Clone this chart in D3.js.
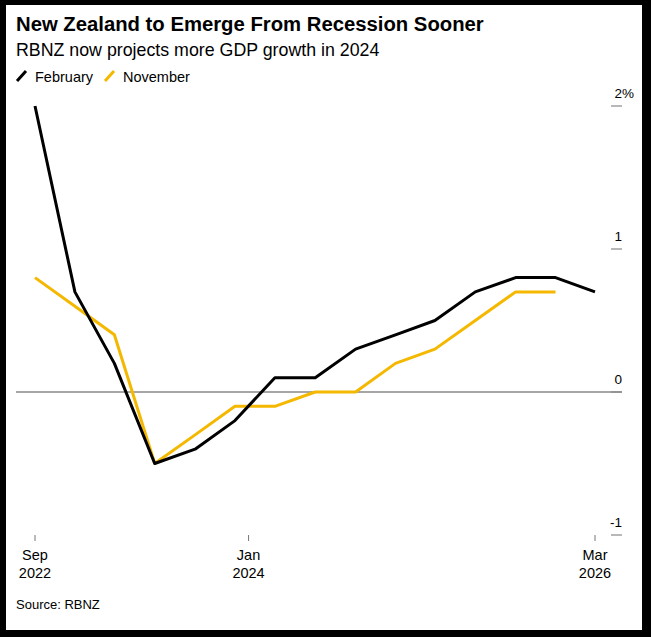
<!DOCTYPE html>
<html>
<head>
<meta charset="utf-8">
<script src="https://cdn.jsdelivr.net/npm/d3@7"></script>
<style>
  html, body { margin: 0; padding: 0; background: #000; }
  svg { display: block; }
  text { font-family: "Liberation Sans", Arial, sans-serif; }
</style>
</head>
<body>
<div id="chart"></div>
<script>
// quarterly GDP growth projections, %
const quarters = ["2022-09", "2022-12", "2023-03", "2023-06", "2023-09", "2023-12",
  "2024-03", "2024-06", "2024-09", "2024-12", "2025-03", "2025-06", "2025-09",
  "2025-12", "2026-03"];
const february = [2.0, 0.7, 0.2, -0.5, -0.4, -0.2, 0.1, 0.1, 0.3, 0.4, 0.5, 0.7, 0.8, 0.8, 0.7];
const november = [0.8, 0.6, 0.4, -0.5, -0.3, -0.1, -0.1, 0.0, 0.0, 0.2, 0.3, 0.5, 0.7, 0.7, null];

const yTicks = [2, 1, 0, -1];
const xTicks = [["2022-09", "Sep", "2022"], ["2024-01", "Jan", "2024"], ["2026-03", "Mar", "2026"]];

const seriesNames = ["February", "November"];
const seriesColors = ["#000000", "#f5b800"];

const width = 651;
const height = 637;

const parseMonth = d3.timeParse("%Y-%m");

const svg = d3.select("#chart")
  .append("svg")
  .attr("width", width)
  .attr("height", height);

// black frame round a white card
svg.append("rect")
  .attr("width", width)
  .attr("height", height)
  .attr("fill", "#000");

svg.append("rect")
  .attr("x", 6)
  .attr("y", 5)
  .attr("width", 636)
  .attr("height", 625)
  .attr("fill", "#fff");

// titles
svg.append("text")
  .attr("x", 16)
  .attr("y", 31)
  .style("font-size", "20.3px")
  .style("font-weight", "bold")
  .attr("fill", "#000")
  .text("New Zealand to Emerge From Recession Sooner");

svg.append("text")
  .attr("x", 16)
  .attr("y", 55.5)
  .style("font-size", "17.8px")
  .attr("fill", "#000")
  .text("RBNZ now projects more GDP growth in 2024");

// legend
const legendX = [17, 105];
seriesNames.forEach((name, i) => {
  const lg = svg.append("g").attr("transform", `translate(${legendX[i]}, 0)`);
  lg.append("line")
    .attr("x1", 0).attr("y1", 81)
    .attr("x2", 9).attr("y2", 71)
    .attr("stroke", seriesColors[i])
    .attr("stroke-width", 3);
  lg.append("text")
    .attr("x", 18)
    .attr("y", 81.5)
    .style("font-size", "14.5px")
    .attr("fill", "#000")
    .text(name);
});

const xScale = d3.scaleTime()
  .domain([parseMonth("2022-09"), parseMonth("2026-03")])
  .range([35, 595]);

const yScale = d3.scaleLinear()
  .domain([-1, 2])
  .range([535, 106]);

// y axis on the right: short ticks, labels sitting above them
const yAxis = svg.append("g");
yAxis.selectAll("line")
  .data(yTicks)
  .join("line")
  .attr("x1", 611)
  .attr("x2", 622)
  .attr("y1", d => yScale(d))
  .attr("y2", d => yScale(d))
  .attr("stroke", "#888")
  .attr("stroke-width", 1.2);

yAxis.selectAll("text.num")
  .data(yTicks)
  .join("text")
  .attr("class", "num")
  .attr("x", 622)
  .attr("y", d => yScale(d) - 8)
  .attr("text-anchor", "end")
  .style("font-size", "13.5px")
  .attr("fill", "#000")
  .text(d => d);

yAxis.append("text")
  .attr("x", 622)
  .attr("y", yScale(2) - 8)
  .style("font-size", "13.5px")
  .attr("fill", "#000")
  .text("%");

// zero line
svg.append("line")
  .attr("x1", 16)
  .attr("x2", 622)
  .attr("y1", yScale(0))
  .attr("y2", yScale(0))
  .attr("stroke", "#888")
  .attr("stroke-width", 1.3);

// x axis
const xAxis = svg.append("g");
xTicks.forEach(t => {
  const x = xScale(parseMonth(t[0]));
  xAxis.append("line")
    .attr("x1", x).attr("x2", x)
    .attr("y1", 535).attr("y2", 541)
    .attr("stroke", "#777")
    .attr("stroke-width", 1);
  xAxis.append("text")
    .attr("x", x)
    .attr("y", 560)
    .attr("text-anchor", "middle")
    .style("font-size", "14.5px")
    .attr("fill", "#000")
    .text(t[1]);
  xAxis.append("text")
    .attr("x", x)
    .attr("y", 578)
    .attr("text-anchor", "middle")
    .style("font-size", "14.5px")
    .attr("fill", "#000")
    .text(t[2]);
});

// lines
const line = d3.line()
  .defined(d => d.v !== null)
  .x(d => xScale(d.date))
  .y(d => yScale(d.v));

[february, november].forEach((vals, i) => {
  const data = quarters.map((q, j) => ({date: parseMonth(q), v: vals[j]}));
  svg.append("path")
    .datum(data)
    .attr("fill", "none")
    .attr("stroke", seriesColors[i])
    .attr("stroke-width", 3)
    .attr("stroke-linejoin", "round")
    .attr("d", line);
});

// draw February on top of November like the original
svg.selectAll("path").filter((d, i) => i === 0).raise();

svg.append("text")
  .attr("x", 16)
  .attr("y", 609)
  .style("font-size", "13px")
  .attr("fill", "#000")
  .text("Source: RBNZ");
</script>
</body>
</html>
